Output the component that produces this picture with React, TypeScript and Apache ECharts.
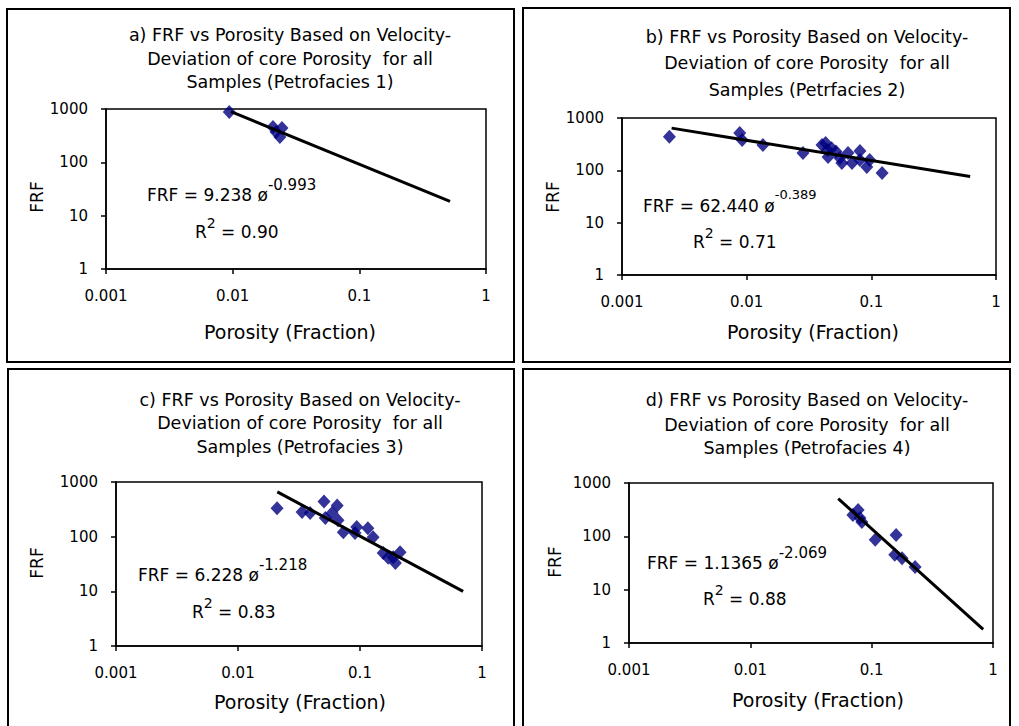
import React, { useEffect, useRef } from "react";
import * as echarts from "echarts";

// ---- data ----
const xTickLabels = ["0.001", "0.01", "0.1", "1"];
const yTickLabels = ["1", "10", "100", "1000"];

const pointsA = [[0.0094, 880], [0.0208, 460], [0.022, 370], [0.0236, 300], [0.0245, 440]];
const trendA = [[0.0097, 890], [0.52, 18.5]];

const pointsB = [
  [0.0024, 436], [0.0088, 519], [0.0092, 380], [0.0135, 306], [0.0283, 215],
  [0.0402, 306], [0.043, 333], [0.0445, 245], [0.045, 180], [0.048, 265],
  [0.052, 230], [0.056, 173], [0.058, 138], [0.065, 215], [0.07, 138],
  [0.081, 235], [0.081, 158], [0.092, 116], [0.097, 158], [0.122, 89],
];
const trendB = [[0.0025, 640], [0.62, 76]];

const pointsC = [
  [0.0209, 330], [0.0335, 282], [0.039, 270], [0.0507, 440], [0.052, 219],
  [0.059, 270], [0.065, 370], [0.066, 200], [0.073, 121], [0.091, 117],
  [0.094, 150], [0.116, 143], [0.128, 98], [0.155, 50], [0.17, 41],
  [0.187, 42], [0.195, 33], [0.213, 52],
];
const trendC = [[0.021, 660], [0.7, 10]];

const pointsD = [
  [0.07, 252], [0.0773, 313], [0.08, 220], [0.083, 186], [0.107, 86],
  [0.155, 45], [0.159, 106], [0.178, 39], [0.228, 26.7],
];
const trendD = [[0.053, 510], [0.83, 1.8]];

const titles = [
  ["a) FRF vs Porosity Based on Velocity-", "Deviation of core Porosity  for all", "Samples (Petrofacies 1)"],
  ["b) FRF vs Porosity Based on Velocity-", "Deviation of core Porosity  for all", "Samples (Petrfacies 2)"],
  ["c) FRF vs Porosity Based on Velocity-", "Deviation of core Porosity  for all", "Samples (Petrofacies 3)"],
  ["d) FRF vs Porosity Based on Velocity-", "Deviation of core Porosity  for all", "Samples (Petrofacies 4)"],
];
const eqCoef = ["FRF = 9.238 ø", "FRF = 62.440 ø", "FRF = 6.228 ø", "FRF = 1.1365 ø"];
const eqExp = ["-0.993", "-0.389", "-1.218", "-2.069"];
const r2Values = ["0.90", "0.71", "0.83", "0.88"];

const FONT = "DejaVu Sans, Verdana, sans-serif";

// layout for each panel
const panels = [
  { grid: { left: 106, top: 109, width: 380, height: 160 }, frame: [7, 9, 507, 353], titleX: 290, titleY: [35, 59, 82], eq: [147, 192], r2: [195, 230], frf: [37, 197], por: [290, 332] },
  { grid: { left: 622, top: 118, width: 374, height: 157 }, frame: [523, 8, 487, 354], titleX: 807, titleY: [37, 63, 90], eq: [643, 203], r2: [693, 240], frf: [553, 197], por: [813, 332] },
  { grid: { left: 116, top: 482, width: 366, height: 164 }, frame: [8, 369, 506, 370], titleX: 300, titleY: [400, 423, 447], eq: [138, 572], r2: [192, 610], frf: [37, 563], por: [300, 702] },
  { grid: { left: 629, top: 483, width: 364, height: 160 }, frame: [523, 369, 487, 370], titleX: 807, titleY: [400, 425, 448], eq: [647, 560], r2: [703, 597], frf: [555, 562], por: [818, 700] },
];

const pointSets = [pointsA, pointsB, pointsC, pointsD];
const trendSets = [trendA, trendB, trendC, trendD];

export default function App() {
  const ref = useRef<HTMLDivElement>(null);
  useEffect(() => {
    if (!ref.current) return;
    const chart = echarts.init(ref.current, null, { renderer: "svg" });

    const grids = panels.map((p) => ({ ...p.grid, show: true, borderColor: "#000", borderWidth: 1.5, backgroundColor: "#fff" }));
    const xAxes = panels.map((_, i) => ({
      type: "log",
      logBase: 10,
      gridIndex: i,
      min: 0.001,
      max: 1,
      axisLine: { lineStyle: { color: "#000", width: 1.5 } },
      axisTick: { show: true, length: 5, lineStyle: { color: "#000", width: 1.5 } },
      splitLine: { show: false },
      minorTick: { show: false },
      axisLabel: {
        color: "#000",
        fontFamily: FONT,
        fontSize: 15,
        margin: 19,
        formatter: (v: number) => xTickLabels[Math.round(Math.log10(v)) + 3] ?? "",
      },
    }));
    const yAxes = panels.map((_, i) => ({
      type: "log",
      logBase: 10,
      gridIndex: i,
      min: 1,
      max: 1000,
      axisLine: { lineStyle: { color: "#000", width: 1.5 } },
      axisTick: { show: true, length: 5, lineStyle: { color: "#000", width: 1.5 } },
      splitLine: { show: false },
      axisLabel: {
        color: "#000",
        fontFamily: FONT,
        fontSize: 15,
        margin: 18,
        formatter: (v: number) => yTickLabels[Math.round(Math.log10(v))] ?? "",
      },
    }));

    const series: any[] = [];
    panels.forEach((_, i) => {
      series.push({
        type: "line",
        xAxisIndex: i,
        yAxisIndex: i,
        data: trendSets[i],
        symbol: "none",
        lineStyle: { color: "#000", width: 3 },
        z: 3,
      });
      series.push({
        type: "scatter",
        xAxisIndex: i,
        yAxisIndex: i,
        data: pointSets[i],
        symbol: "diamond",
        symbolSize: [13, 14],
        itemStyle: { color: "#00007f" },
        z: 2,
      });
    });

    const graphic: any[] = [];
    panels.forEach((p, i) => {
      graphic.push({
        type: "rect",
        shape: { x: p.frame[0], y: p.frame[1], width: p.frame[2], height: p.frame[3] },
        style: { fill: "none", stroke: "#000", lineWidth: 2 },
        z: 0,
      });
      titles[i].forEach((t, k) => {
        graphic.push({
          type: "text",
          x: p.titleX,
          y: p.titleY[k],
          style: { text: t, fill: "#000", font: `17.5px ${FONT}`, align: "center", verticalAlign: "middle" },
        });
      });
      graphic.push({
        type: "text",
        x: p.eq[0],
        y: p.eq[1],
        style: {
          text: `{m|${eqCoef[i]}}{s|${eqExp[i]}}`,
          fill: "#000",
          align: "left",
          verticalAlign: "middle",
          rich: {
            m: { fontFamily: FONT, fontSize: 17, lineHeight: 30, verticalAlign: "bottom", fill: "#000", padding: [0, 0, 4, 0] },
            s: { fontFamily: FONT, fontSize: i === 1 ? 13 : 15, lineHeight: 16, verticalAlign: "top", fill: "#000" },
          },
        },
        z: 10,
      });
      graphic.push({
        type: "text",
        x: p.r2[0],
        y: p.r2[1],
        style: {
          text: `{m|R}{s|2}{m| = ${r2Values[i]}}`,
          fill: "#000",
          align: "left",
          verticalAlign: "middle",
          rich: {
            m: { fontFamily: FONT, fontSize: 17, lineHeight: 28, verticalAlign: "bottom", fill: "#000", padding: [0, 0, 4, 0] },
            s: { fontFamily: FONT, fontSize: 14, lineHeight: 16, verticalAlign: "top", fill: "#000" },
          },
        },
        z: 10,
      });
      graphic.push({
        type: "text",
        x: p.frf[0],
        y: p.frf[1],
        rotation: Math.PI / 2,
        style: { text: "FRF", fill: "#000", font: `17px ${FONT}`, align: "center", verticalAlign: "middle" },
      });
      graphic.push({
        type: "text",
        x: p.por[0],
        y: p.por[1],
        style: { text: "Porosity (Fraction)", fill: "#000", font: `19px ${FONT}`, align: "center", verticalAlign: "middle" },
      });
    });

    chart.setOption({
      animation: false,
      backgroundColor: "#fff",
      grid: grids,
      xAxis: xAxes,
      yAxis: yAxes,
      series,
      graphic,
    });
    return () => chart.dispose();
  }, []);

  return <div ref={ref} style={{ position: "fixed", left: 0, top: 0, width: 1019, height: 726 }} />;
}
